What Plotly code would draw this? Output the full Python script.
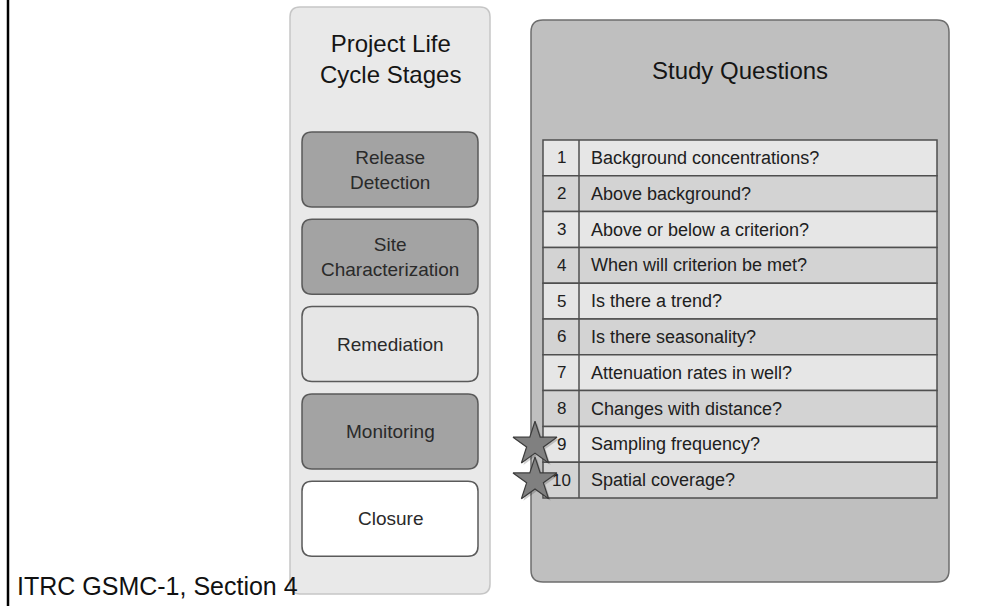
import plotly.graph_objects as go

# ---------------- data ----------------
panel_titles = ["Project Life<br>Cycle Stages", "Study Questions"]
stages = ["Release<br>Detection", "Site<br>Characterization", "Remediation", "Monitoring", "Closure"]
stage_shade = ["dark", "dark", "light", "dark", "white"]
question_ids = [1, 2, 3, 4, 5, 6, 7, 8, 9, 10]
questions = [
    "Background concentrations?",
    "Above background?",
    "Above or below a criterion?",
    "When will criterion be met?",
    "Is there a trend?",
    "Is there seasonality?",
    "Attenuation rates in well?",
    "Changes with distance?",
    "Sampling frequency?",
    "Spatial coverage?",
]
starred = [9, 10]
footer = "ITRC GSMC-1, Section 4"

# ---------------- layout constants ----------------
W, H = 1003, 606
FONT = "Liberation Sans, Arial, sans-serif"
shade_fill = {"dark": "#a3a3a3", "light": "#e6e6e6", "white": "#ffffff"}

LP = dict(x0=290, x1=490, y0=7, y1=594)          # left panel
RP = dict(x0=531, x1=949, y0=20, y1=582)         # right panel
BOX_X0, BOX_X1, BOX_TOP, BOX_H, BOX_STEP = 302, 478, 132, 75, 87.3
TB_X0, TB_XM, TB_X1, TB_TOP, ROW_H = 543, 579, 937, 140, 35.8


def rrect(x0, y0, x1, y1, r):
    return (f"M {x0+r},{y0} L {x1-r},{y0} Q {x1},{y0} {x1},{y0+r} "
            f"L {x1},{y1-r} Q {x1},{y1} {x1-r},{y1} L {x0+r},{y1} "
            f"Q {x0},{y1} {x0},{y1-r} L {x0},{y0+r} Q {x0},{y0} {x0+r},{y0} Z")


shapes = []
annotations = []

# left vertical black rule
shapes.append(dict(type="line", x0=8, x1=8, y0=0, y1=H, line=dict(color="#000000", width=2.5),
                   layer="below"))

# left panel
shapes.append(dict(type="path", path=rrect(LP["x0"], LP["y0"], LP["x1"], LP["y1"], 10),
                   fillcolor="#e9e9e9", line=dict(color="#c6c6c6", width=1.5), layer="below"))
annotations.append(dict(x=(LP["x0"] + LP["x1"]) / 2, y=59, text=panel_titles[0],
                        font=dict(size=24, color="#151515", family=FONT), showarrow=False,
                        xanchor="center", yanchor="middle"))

for i, (name, shade) in enumerate(zip(stages, stage_shade)):
    y0 = BOX_TOP + i * BOX_STEP
    y1 = y0 + BOX_H
    shapes.append(dict(type="path", path=rrect(BOX_X0, y0, BOX_X1, y1, 10),
                       fillcolor=shade_fill[shade], line=dict(color="#5a5a5a", width=1.5),
                       layer="below"))
    annotations.append(dict(x=(BOX_X0 + BOX_X1) / 2, y=(y0 + y1) / 2, text=name,
                            font=dict(size=19, color="#2a2a2a", family=FONT), showarrow=False,
                            xanchor="center", yanchor="middle"))

# right panel
shapes.append(dict(type="path", path=rrect(RP["x0"], RP["y0"], RP["x1"], RP["y1"], 12),
                   fillcolor="#bfbfbf", line=dict(color="#6e6e6e", width=1.5), layer="below"))
annotations.append(dict(x=(RP["x0"] + RP["x1"]) / 2, y=70, text=panel_titles[1],
                        font=dict(size=24, color="#151515", family=FONT), showarrow=False,
                        xanchor="center", yanchor="middle"))

# table rows
for i, (qid, q) in enumerate(zip(question_ids, questions)):
    y0 = TB_TOP + i * ROW_H
    y1 = y0 + ROW_H
    fill = "#e6e6e6" if i % 2 == 0 else "#d3d3d3"
    shapes.append(dict(type="rect", x0=TB_X0, x1=TB_X1, y0=y0, y1=y1,
                       fillcolor=fill, line=dict(color="#4f4f4f", width=1.5), layer="below"))
    annotations.append(dict(x=(TB_X0 + TB_XM) / 2, y=(y0 + y1) / 2, text=str(qid),
                            font=dict(size=17, color="#202020", family=FONT), showarrow=False,
                            xanchor="center", yanchor="middle"))
    annotations.append(dict(x=TB_XM + 10, y=(y0 + y1) / 2, text=q,
                            font=dict(size=18, color="#202020", family=FONT), showarrow=False,
                            xanchor="left", yanchor="middle"))
shapes.append(dict(type="line", x0=TB_XM, x1=TB_XM, y0=TB_TOP, y1=TB_TOP + len(questions) * ROW_H,
                   line=dict(color="#4f4f4f", width=1.5), layer="below"))

# footer
annotations.append(dict(x=15, y=586, text=footer, font=dict(size=25, color="#111111", family=FONT),
                        showarrow=False, xanchor="left", yanchor="middle"))

# stars
star_y = [TB_TOP + (question_ids.index(s) + 0.5) * ROW_H for s in starred]
star_x = [535] * len(starred)

fig = go.Figure()
fig.add_trace(go.Scatter(x=[x + 2 for x in star_x], y=[y + 2 for y in star_y], mode="markers",
                         marker=dict(symbol="star", size=33, color="rgba(0,0,0,0.18)",
                                     line=dict(width=0)), hoverinfo="skip", showlegend=False))
fig.add_trace(go.Scatter(x=star_x, y=star_y, mode="markers",
                         marker=dict(symbol="star", size=33, color="#808080",
                                     line=dict(color="#3c3c3c", width=1.2)),
                         hoverinfo="skip", showlegend=False))

fig.update_layout(
    width=W, height=H,
    margin=dict(l=0, r=0, t=0, b=0),
    paper_bgcolor="#ffffff", plot_bgcolor="#ffffff",
    xaxis=dict(range=[0, W], visible=False, fixedrange=True),
    yaxis=dict(range=[H, 0], visible=False, fixedrange=True),
    shapes=shapes, annotations=annotations,
    showlegend=False,
)

fig.write_html("out.html", config={"displayModeBar": False},
               post_script="document.body.style.margin='0';document.body.style.overflow='hidden';")
